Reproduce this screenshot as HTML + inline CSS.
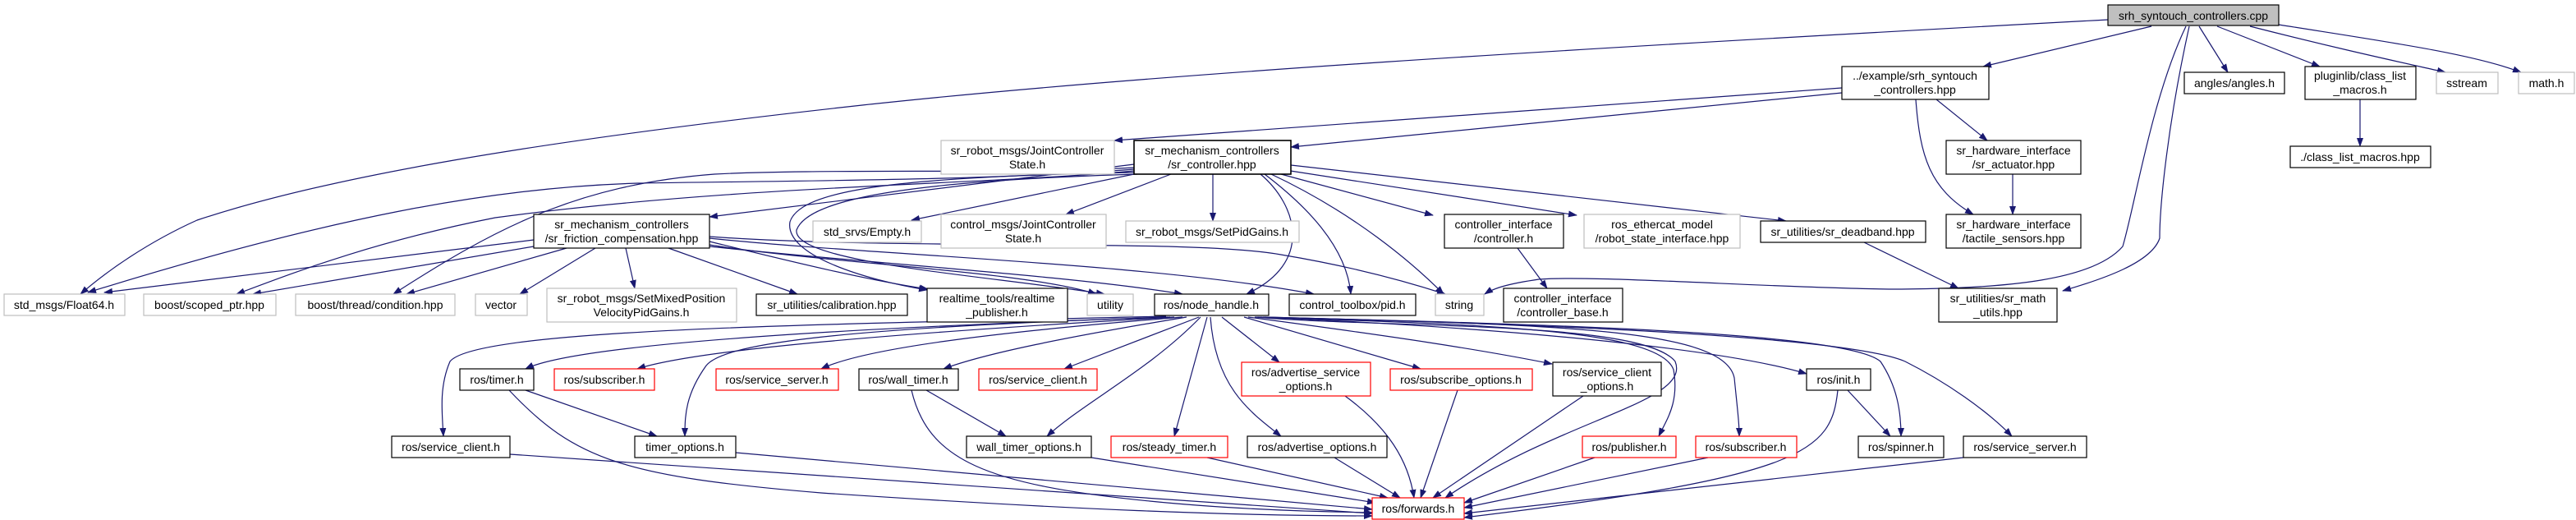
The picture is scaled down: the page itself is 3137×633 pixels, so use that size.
<!DOCTYPE html>
<html><head><meta charset="utf-8"><style>
html,body{margin:0;padding:0;background:#fff;}
svg{display:block;}
text{font-family:"Liberation Sans",sans-serif;font-size:14px;fill:#000;text-anchor:middle;}
.e{fill:none;stroke:#191970;stroke-width:1.2;marker-end:url(#a);}
.g{fill:#fff;stroke:#bfbfbf;stroke-width:1.2;}
.k{fill:#fff;stroke:#000;stroke-width:1.2;}
.r{fill:#fff;stroke:#ff0000;stroke-width:1.2;}
</style></head><body>
<svg width="3137" height="633" viewBox="0 0 3137 633" xmlns="http://www.w3.org/2000/svg">
<defs><marker id="a" markerWidth="11" markerHeight="8" refX="10" refY="4" orient="auto" markerUnits="userSpaceOnUse"><path d="M0,0 L11,4 L0,8z" fill="#191970"/></marker></defs>

<path class="e" d="M2567,24 C1900,60 1400,90 1050,128 C650,172 400,215 240,268 C180,295 130,330 98,358"/>
<path class="e" d="M2620,32 L2415,81"/>
<path class="e" d="M2662,32 C2620,120 2600,250 2585,300 C2550,340 2450,352 2300,352 C2150,350 1950,335 1874,340 C1840,345 1820,350 1808,358"/>
<path class="e" d="M2666,32 C2640,150 2630,250 2630,290 C2620,320 2560,340 2512,354"/>
<path class="e" d="M2678,32 L2713,88"/>
<path class="e" d="M2700,32 L2825,81"/>
<path class="e" d="M2740,32 C2850,60 2920,75 2978,88"/>
<path class="e" d="M2775,30 C2900,50 3010,65 3070,88"/>
<path class="e" d="M2243,107 L1357,171"/>
<path class="e" d="M2243,113 L1572,179"/>
<path class="e" d="M2358,121 L2420,171"/>
<path class="e" d="M2333,121 C2338,190 2350,230 2403,261"/>
<path class="e" d="M2451,212 L2451,261"/>
<path class="e" d="M2874,121 L2874,178"/>
<path class="e" d="M2270,295 L2385,351"/>
<path class="e" d="M1572,201 L2175,269"/>
<path class="e" d="M1565,207 L1920,262"/>
<path class="e" d="M1560,212 L1745,262"/>
<path class="e" d="M1477,212 L1477,269"/>
<path class="e" d="M1426,212 L1298,261"/>
<path class="e" d="M1381,212 L1110,268"/>
<path class="e" d="M1381,200 L864,264"/>
<path class="e" d="M1548,212 C1650,260 1720,320 1758,358"/>
<path class="e" d="M1540,212 C1590,250 1640,300 1645,358"/>
<path class="e" d="M1535,212 C1580,250 1600,320 1518,358"/>
<path class="e" d="M1381,210 C1100,215 975,230 962,270 C955,310 1050,340 1129,353"/>
<path class="e" d="M1385,212 C1120,220 985,240 970,280 C965,320 1200,335 1345,358"/>
<path class="e" d="M1381,206 C1200,220 960,220 777,223 C600,228 400,265 107,356"/>
<path class="e" d="M1381,208 C1200,225 900,225 603,265 C450,295 350,335 288,358"/>
<path class="e" d="M1381,204 C1250,212 1000,205 870,212 C700,225 600,280 479,358"/>
<path class="e" d="M650,292 L127,356"/>
<path class="e" d="M650,300 L308,358"/>
<path class="e" d="M690,302 L495,358"/>
<path class="e" d="M725,302 L633,358"/>
<path class="e" d="M762,302 L773,351"/>
<path class="e" d="M814,302 L971,358"/>
<path class="e" d="M864,294 C950,315 1050,340 1130,352"/>
<path class="e" d="M864,298 C1000,320 1250,330 1335,358"/>
<path class="e" d="M864,300 C1050,320 1300,335 1440,358"/>
<path class="e" d="M864,290 C1050,310 1400,320 1600,358"/>
<path class="e" d="M864,288 C1100,305 1450,290 1560,310 C1650,325 1720,345 1760,358"/>
<path class="e" d="M1848,302 L1884,351"/>
<path class="e" d="M1420,385 C1000,395 580,400 548,440 C535,470 538,500 540,531"/>
<path class="e" d="M1425,386 C1000,400 700,420 640,449"/>
<path class="e" d="M1430,386 C1100,405 850,425 776,449"/>
<path class="e" d="M1440,386 C1200,405 1050,425 1000,449"/>
<path class="e" d="M1445,386 C1300,410 1200,430 1149,449"/>
<path class="e" d="M1460,386 L1296,449"/>
<path class="e" d="M1422,386 C1000,400 880,420 860,445 C835,480 834,505 834,531"/>
<path class="e" d="M1462,386 C1400,450 1320,490 1275,531"/>
<path class="e" d="M1470,386 L1430,531"/>
<path class="e" d="M1488,386 L1558,441"/>
<path class="e" d="M1474,386 C1480,470 1520,500 1560,531"/>
<path class="e" d="M1515,386 L1730,449"/>
<path class="e" d="M1520,386 C1700,410 1800,425 1890,443"/>
<path class="e" d="M1528,386 C1700,400 2000,390 2040,440 C2060,490 1900,510 1760,606"/>
<path class="e" d="M1530,386 C1800,395 2020,400 2038,450 C2045,490 2030,510 2020,531"/>
<path class="e" d="M1532,386 C1900,395 2100,400 2112,460 C2116,500 2118,515 2118,531"/>
<path class="e" d="M1535,386 C1850,400 2100,425 2200,455"/>
<path class="e" d="M1538,386 C1900,395 2250,405 2290,440 C2310,470 2315,500 2315,531"/>
<path class="e" d="M1540,386 C1900,395 2250,410 2320,440 C2370,465 2420,500 2450,531"/>
<path class="e" d="M621,553 L1671,625"/>
<path class="e" d="M620,475 C700,560 760,580 1000,600 C1300,620 1500,628 1671,628"/>
<path class="e" d="M896,551 L1671,620"/>
<path class="e" d="M640,475 L800,531"/>
<path class="e" d="M1128,475 L1225,531"/>
<path class="e" d="M1110,475 C1130,560 1200,590 1400,610 C1500,620 1600,623 1671,624"/>
<path class="e" d="M1329,557 L1675,612"/>
<path class="e" d="M1470,557 L1690,606"/>
<path class="e" d="M1625,557 L1705,606"/>
<path class="e" d="M1638,482 C1690,520 1715,560 1722,606"/>
<path class="e" d="M1775,475 L1730,606"/>
<path class="e" d="M1928,482 L1745,606"/>
<path class="e" d="M1942,557 L1783,612"/>
<path class="e" d="M2080,557 L1783,618"/>
<path class="e" d="M2391,557 L1783,625"/>
<path class="e" d="M2238,475 C2230,550 2200,580 1783,630"/>
<path class="e" d="M2250,475 L2302,531"/>

<rect x="2567" y="6" width="208" height="25" fill="#bfbfbf" stroke="#000" stroke-width="1.2"/><text x="2671" y="24">srh_syntouch_controllers.cpp</text>
<rect class="k" x="2243" y="81" width="179" height="40"/><text x="2332" y="97">../example/srh_syntouch</text><text x="2332" y="114">_controllers.hpp</text>
<rect class="k" x="2660" y="88" width="122" height="26"/><text x="2721" y="106">angles/angles.h</text>
<rect class="k" x="2807" y="81" width="135" height="40"/><text x="2874" y="97">pluginlib/class_list</text><text x="2874" y="114">_macros.h</text>
<rect class="g" x="2967" y="88" width="75" height="26"/><text x="3004" y="106">sstream</text>
<rect class="g" x="3067" y="88" width="68" height="26"/><text x="3101" y="106">math.h</text>
<rect class="k" x="2789" y="178" width="171" height="26"/><text x="2874" y="196">./class_list_macros.hpp</text>
<rect class="k" x="2370" y="171" width="164" height="41"/><text x="2452" y="188">sr_hardware_interface</text><text x="2452" y="205">/sr_actuator.hpp</text>
<rect class="k" x="2370" y="261" width="164" height="41"/><text x="2452" y="278">sr_hardware_interface</text><text x="2452" y="295">/tactile_sensors.hpp</text>
<rect class="k" x="2144" y="269" width="201" height="26"/><text x="2244" y="287">sr_utilities/sr_deadband.hpp</text>
<rect class="k" x="2361" y="351" width="144" height="41"/><text x="2433" y="368">sr_utilities/sr_math</text><text x="2433" y="385">_utils.hpp</text>
<rect class="g" x="1146" y="171" width="211" height="41"/><text x="1251" y="188">sr_robot_msgs/JointController</text><text x="1251" y="205">State.h</text>
<rect x="1381" y="171" width="191" height="41" fill="#fff" stroke="#000" stroke-width="1.6"/><text x="1476" y="188">sr_mechanism_controllers</text><text x="1476" y="205">/sr_controller.hpp</text>
<rect class="g" x="990" y="269" width="132" height="26"/><text x="1056" y="287">std_srvs/Empty.h</text>
<rect class="g" x="1146" y="261" width="201" height="41"/><text x="1246" y="278">control_msgs/JointController</text><text x="1246" y="295">State.h</text>
<rect class="g" x="1371" y="269" width="211" height="26"/><text x="1476" y="287">sr_robot_msgs/SetPidGains.h</text>
<rect class="k" x="1759" y="261" width="145" height="41"/><text x="1831" y="278">controller_interface</text><text x="1831" y="295">/controller.h</text>
<rect class="g" x="1929" y="261" width="190" height="41"/><text x="2024" y="278">ros_ethercat_model</text><text x="2024" y="295">/robot_state_interface.hpp</text>
<rect class="k" x="650" y="261" width="214" height="41"/><text x="757" y="278">sr_mechanism_controllers</text><text x="757" y="295">/sr_friction_compensation.hpp</text>
<rect class="g" x="5" y="358" width="147" height="26"/><text x="78" y="376">std_msgs/Float64.h</text>
<rect class="g" x="175" y="358" width="161" height="26"/><text x="255" y="376">boost/scoped_ptr.hpp</text>
<rect class="g" x="360" y="358" width="194" height="26"/><text x="457" y="376">boost/thread/condition.hpp</text>
<rect class="g" x="579" y="358" width="63" height="26"/><text x="610" y="376">vector</text>
<rect class="g" x="666" y="351" width="231" height="41"/><text x="781" y="368">sr_robot_msgs/SetMixedPosition</text><text x="781" y="385">VelocityPidGains.h</text>
<rect class="k" x="921" y="358" width="184" height="26"/><text x="1013" y="376">sr_utilities/calibration.hpp</text>
<rect class="k" x="1129" y="351" width="171" height="41"/><text x="1214" y="368">realtime_tools/realtime</text><text x="1214" y="385">_publisher.h</text>
<rect class="g" x="1324" y="358" width="56" height="26"/><text x="1352" y="376">utility</text>
<rect class="k" x="1406" y="358" width="139" height="26"/><text x="1475" y="376">ros/node_handle.h</text>
<rect class="k" x="1570" y="358" width="154" height="26"/><text x="1647" y="376">control_toolbox/pid.h</text>
<rect class="g" x="1748" y="358" width="59" height="26"/><text x="1777" y="376">string</text>
<rect class="k" x="1831" y="351" width="145" height="41"/><text x="1903" y="368">controller_interface</text><text x="1903" y="385">/controller_base.h</text>
<rect class="k" x="560" y="449" width="90" height="26"/><text x="605" y="467">ros/timer.h</text>
<rect class="r" x="675" y="449" width="122" height="26"/><text x="736" y="467">ros/subscriber.h</text>
<rect class="r" x="872" y="449" width="149" height="26"/><text x="946" y="467">ros/service_server.h</text>
<rect class="k" x="1046" y="449" width="121" height="26"/><text x="1106" y="467">ros/wall_timer.h</text>
<rect class="r" x="1192" y="449" width="144" height="26"/><text x="1264" y="467">ros/service_client.h</text>
<rect class="r" x="1512" y="441" width="157" height="41"/><text x="1590" y="458">ros/advertise_service</text><text x="1590" y="475">_options.h</text>
<rect class="r" x="1693" y="449" width="173" height="26"/><text x="1779" y="467">ros/subscribe_options.h</text>
<rect class="k" x="1891" y="441" width="132" height="41"/><text x="1957" y="458">ros/service_client</text><text x="1957" y="475">_options.h</text>
<rect class="k" x="2200" y="449" width="78" height="26"/><text x="2239" y="467">ros/init.h</text>
<rect class="k" x="477" y="531" width="144" height="26"/><text x="549" y="549">ros/service_client.h</text>
<rect class="k" x="773" y="531" width="123" height="26"/><text x="834" y="549">timer_options.h</text>
<rect class="k" x="1177" y="531" width="152" height="26"/><text x="1253" y="549">wall_timer_options.h</text>
<rect class="r" x="1353" y="531" width="142" height="26"/><text x="1424" y="549">ros/steady_timer.h</text>
<rect class="k" x="1519" y="531" width="170" height="26"/><text x="1604" y="549">ros/advertise_options.h</text>
<rect class="r" x="1927" y="531" width="114" height="26"/><text x="1984" y="549">ros/publisher.h</text>
<rect class="r" x="2065" y="531" width="123" height="26"/><text x="2126" y="549">ros/subscriber.h</text>
<rect class="k" x="2263" y="531" width="104" height="26"/><text x="2315" y="549">ros/spinner.h</text>
<rect class="k" x="2391" y="531" width="150" height="26"/><text x="2466" y="549">ros/service_server.h</text>
<rect class="r" x="1671" y="606" width="112" height="26"/><text x="1727" y="624">ros/forwards.h</text>
</svg>
</body></html>
